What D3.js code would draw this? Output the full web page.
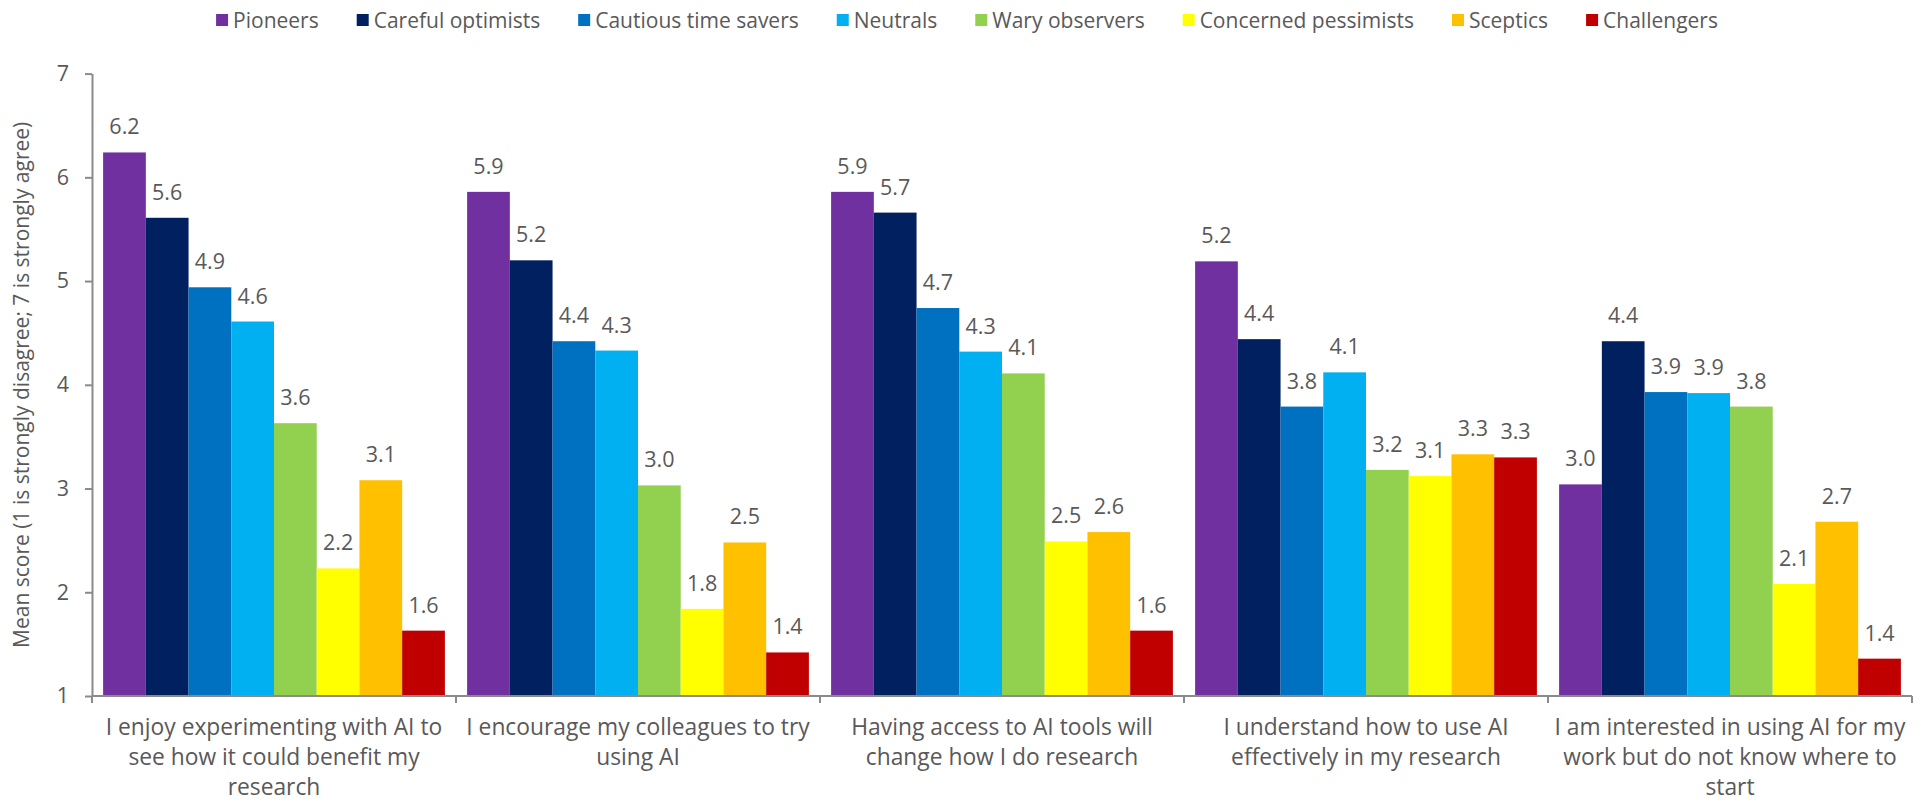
<!DOCTYPE html>
<html>
<head>
<meta charset="utf-8">
<script src="https://cdn.jsdelivr.net/npm/d3@7"></script>
<style>
  html, body { margin: 0; padding: 0; background: #fff; }
  svg { display: block; }
  text { font-family: "Open Sans", "DejaVu Sans", sans-serif; fill: #595959; }
</style>
</head>
<body>
<svg id="chart" width="1921" height="810"></svg>
<script>
// Statements (x-axis categories), each split into its display lines
const statements = [
  ["I enjoy experimenting with AI to", "see how it could benefit my", "research"],
  ["I encourage my colleagues to try", "using AI"],
  ["Having access to AI tools will", "change how I do research"],
  ["I understand how to use AI", "effectively in my research"],
  ["I am interested in using AI for my", "work but do not know where to", "start"]
];

// Respondent segments (series)
const segments = [
  "Pioneers", "Careful optimists", "Cautious time savers", "Neutrals",
  "Wary observers", "Concerned pessimists", "Sceptics", "Challengers"
];

const segmentColors = [
  "#7030A0", "#002060", "#0070C0", "#00B0F0",
  "#92D050", "#FFFF00", "#FFC000", "#C00000"
];

// Mean score per segment, one value per statement
const pioneers            = [6.24, 5.86, 5.86, 5.19, 3.04];
const carefulOptimists    = [5.61, 5.20, 5.66, 4.44, 4.42];
const cautiousTimeSavers  = [4.94, 4.42, 4.74, 3.79, 3.93];
const neutrals            = [4.61, 4.33, 4.32, 4.12, 3.92];
const waryObservers       = [3.63, 3.03, 4.11, 3.18, 3.79];
const concernedPessimists = [2.23, 1.84, 2.49, 3.12, 2.08];
const sceptics            = [3.08, 2.48, 2.58, 3.33, 2.68];
const challengers         = [1.63, 1.42, 1.63, 3.30, 1.36];

const yTicks = [1, 2, 3, 4, 5, 6, 7];
const yTitle = "Mean score (1 is strongly disagree; 7 is strongly agree)";

const seriesValues = [
  pioneers, carefulOptimists, cautiousTimeSavers, neutrals,
  waryObservers, concernedPessimists, sceptics, challengers
];

const svg = d3.select("#chart");
const W = 1921;
const H = 810;
const margin = { left: 92, right: 9, top: 73.6, bottom: 114 };

const catIdx = statements.map((d, i) => i);

const x0 = d3.scaleBand()
  .domain(catIdx)
  .range([margin.left, W - margin.right])
  .padding(0);

const x1 = d3.scaleBand()
  .domain(segments)
  .range([0, x0.bandwidth()])
  .paddingInner(0)
  .paddingOuter(0.26);

const y = d3.scaleLinear()
  .domain([1, 7])
  .range([H - margin.bottom, margin.top]);

const color = d3.scaleOrdinal().domain(segments).range(segmentColors);
const fmt = d3.format(".1f");

// Bars
const groups = svg.append("g")
  .selectAll("g")
  .data(catIdx)
  .join("g")
  .attr("transform", i => `translate(${x0(i)},0)`);

const cells = groups.selectAll("g.cell")
  .data(i => segments.map((s, k) => ({ seg: s, value: seriesValues[k][i] })))
  .join("g")
  .attr("class", "cell");

cells.append("rect")
  .attr("x", d => x1(d.seg))
  .attr("y", d => y(d.value))
  .attr("width", x1.bandwidth())
  .attr("height", d => y(1) - y(d.value))
  .attr("fill", d => color(d.seg));

// Value labels
cells.append("text")
  .attr("x", d => x1(d.seg) + x1.bandwidth() / 2)
  .attr("y", d => y(d.value) - 18)
  .attr("text-anchor", "middle")
  .style("font-size", "21.5px")
  .text(d => fmt(d.value));

// Y axis
const axisColor = "#8a8a8a";
const yAxis = svg.append("g")
  .attr("transform", `translate(${margin.left},0)`)
  .call(d3.axisLeft(y).tickValues(yTicks).tickFormat(d3.format("d")).tickSize(7).tickPadding(16).tickSizeOuter(0));
yAxis.select(".domain").attr("stroke", axisColor).attr("stroke-width", 2);
yAxis.selectAll(".tick line").attr("stroke", axisColor).attr("stroke-width", 2);
yAxis.selectAll(".tick text")
  .style("font-size", "21.5px")
  .style("font-family", "'Open Sans', sans-serif")
  .attr("fill", "#595959");

// X axis: baseline with boundary ticks between statements
const xAxis = svg.append("g")
  .attr("transform", `translate(0,${y(1)})`);
xAxis.append("line")
  .attr("x1", x0.range()[0]).attr("x2", x0.range()[1])
  .attr("stroke", axisColor).attr("stroke-width", 2);
const bounds = catIdx.map(i => x0(i)).concat([x0(catIdx[catIdx.length - 1]) + x0.bandwidth()]);
xAxis.selectAll("line.tick")
  .data(bounds)
  .join("line")
  .attr("class", "tick")
  .attr("x1", d => d).attr("x2", d => d)
  .attr("y1", 0).attr("y2", 7)
  .attr("stroke", axisColor).attr("stroke-width", 2);

// Category labels
const catLabels = xAxis.selectAll("text.cat")
  .data(catIdx)
  .join("text")
  .attr("class", "cat")
  .attr("text-anchor", "middle")
  .attr("x", i => x0(i) + x0.bandwidth() / 2)
  .attr("y", 39)
  .style("font-size", "22.8px");
catLabels.selectAll("tspan")
  .data(i => statements[i])
  .join("tspan")
  .attr("x", function () { return d3.select(this.parentNode).attr("x"); })
  .attr("dy", (d, k) => k === 0 ? 0 : 30)
  .text(d => d);

// Y axis title
svg.append("text")
  .attr("transform", `translate(29,${(y(1) + y(7)) / 2}) rotate(-90)`)
  .attr("text-anchor", "middle")
  .style("font-size", "21px")
  .text(yTitle);

// Legend
const legend = svg.append("g");
const sw = 12, gapText = 5, gapItem = 38;
let cursor = 0;
segments.forEach((s, k) => {
  const item = legend.append("g").attr("transform", `translate(${cursor},0)`);
  item.append("rect")
    .attr("x", 0).attr("y", 14)
    .attr("width", sw).attr("height", sw)
    .attr("fill", segmentColors[k]);
  const t = item.append("text")
    .attr("x", sw + gapText).attr("y", 27.5)
    .style("font-size", "21px")
    .text(s);
  cursor += sw + gapText + t.node().getComputedTextLength() + gapItem;
});
const legendWidth = cursor - gapItem;
legend.attr("transform", `translate(${967 - legendWidth / 2},0)`);
</script>
</body>
</html>
